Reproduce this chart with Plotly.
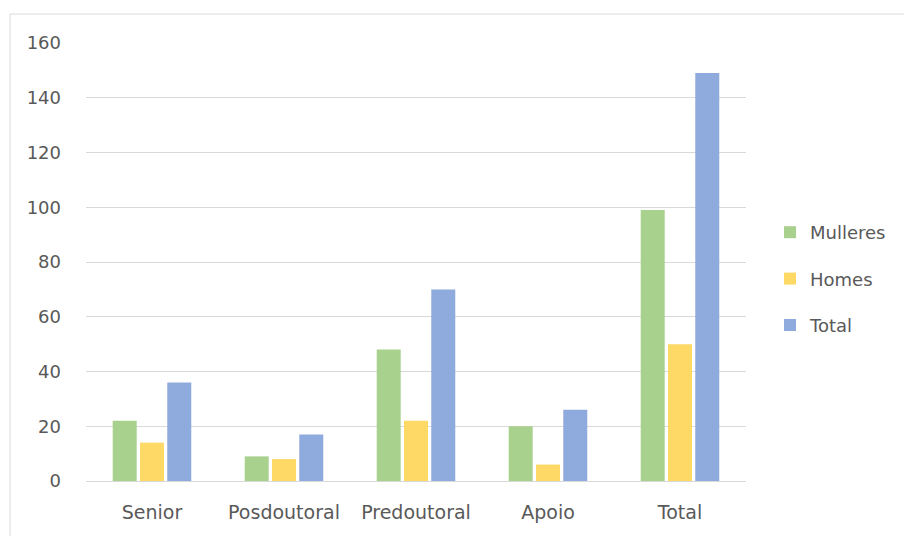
import plotly.graph_objects as go

# Staff counts by category and sex
categories = ["Senior", "Posdoutoral", "Predoutoral", "Apoio", "Total"]
mulleres = [22, 9, 48, 20, 99]
homes = [14, 8, 22, 6, 50]
total = [36, 17, 70, 26, 149]

series = [
    ("Mulleres", mulleres, "#A9D18E"),
    ("Homes", homes, "#FFD966"),
    ("Total", total, "#8FAADC"),
]

W, H = 904, 536
ML, MR, MT, MB = 86, 158, 43, 55
pw, ph = W - ML - MR, H - MT - MB

fig = go.Figure()
for name, vals, color in series:
    fig.add_trace(go.Bar(
        x=categories, y=vals, name=name, legendgroup=name,
        marker=dict(color=color, line=dict(width=0)),
    ))

font = dict(family="DejaVu Sans", size=17, color="#595959")

fig.update_layout(
    width=W, height=H,
    margin=dict(l=ML, r=MR, t=MT, b=MB, pad=0),
    paper_bgcolor="white", plot_bgcolor="white",
    barmode="group", bargap=0.38, bargroupgap=0.12,
    font=font,
    showlegend=True,
    legend=dict(
        x=(770 - ML) / pw, xanchor="left",
        y=(481 - 279) / ph, yanchor="middle",
        font=dict(family="DejaVu Sans", size=18, color="#595959"),
        tracegroupgap=20, bgcolor="rgba(0,0,0,0)",
    ),
    xaxis=dict(
        showgrid=False, showline=False, zeroline=False,
        ticks="", ticklabelstandoff=18,
        tickfont=dict(family="DejaVu Sans", size=19, color="#595959"),
    ),
    yaxis=dict(
        range=[0, 160], dtick=20, tick0=0,
        showgrid=True, gridcolor="#D9D9D9", gridwidth=1,
        zeroline=True, zerolinecolor="#D9D9D9", zerolinewidth=1,
        showline=False, ticks="", ticklabelstandoff=24,
        tickfont=dict(family="DejaVu Sans", size=18, color="#595959"),
    ),
    shapes=[dict(
        type="rect", xref="paper", yref="paper", layer="below",
        x0=(10 - ML) / pw, x1=1 + (W + 10 - (W - MR)) / pw,
        y0=-(MB + 20) / ph, y1=1 + (MT - 14) / ph,
        line=dict(color="#D9D9D9", width=1), fillcolor="rgba(0,0,0,0)",
    )],
)

fig.write_html("out.html")
